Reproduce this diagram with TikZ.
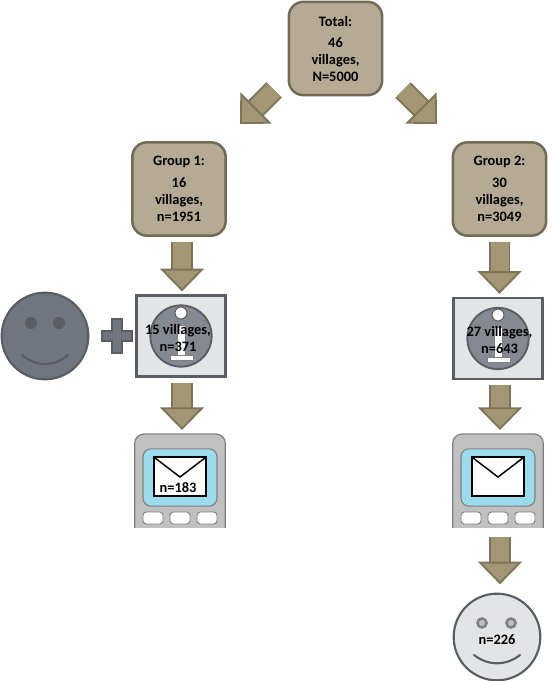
\documentclass[tikz,border=0pt]{standalone}
\usepackage{fontspec}
\setmainfont{Carlito}
\usepackage{xcolor}
\usetikzlibrary{arrows.meta}
\definecolor{boxfill}{RGB}{181,171,148}
\definecolor{boxedge}{RGB}{115,107,85}
\definecolor{arrowfill}{RGB}{163,150,116}
\definecolor{arrowedge}{RGB}{125,117,88}
\definecolor{slatefill}{RGB}{112,117,127}
\definecolor{slateedge}{RGB}{90,94,100}
\definecolor{palefill}{RGB}{227,228,230}
\definecolor{phonefill}{RGB}{192,192,192}
\definecolor{phoneedge}{RGB}{128,128,128}
\definecolor{screenfill}{RGB}{155,219,236}
\tikzset{
  every node/.style={inner sep=0pt,outer sep=0pt},
  lbl/.style={font=\fontsize{10.8}{12.75}\selectfont\bfseries,align=center,text=black},
  countbox/.style={lbl,rectangle,rounded corners=11pt,draw=boxedge,fill=boxfill,line width=1.9pt,
    minimum width=70pt,minimum height=70pt},
  blockarrow/.style={draw=arrowedge,line width=1.4pt,double=arrowfill,double distance=13.5pt,
    -{Triangle[length=17pt,width=33pt,fill=arrowfill,color=arrowedge,line width=1.4pt]}},
  infobox/.style={rectangle,draw=slateedge,fill=palefill,line width=1.9pt,minimum width=67pt,minimum height=61pt},
  infodisc/.style={circle,draw=slateedge,fill=slatefill!85!white,line width=1.4pt,minimum size=46pt},
  infodot/.style={circle,draw=slateedge,fill=white,line width=.8pt,minimum size=9pt},
  infoglyph/.style={fill=white,draw=phoneedge,line width=.5pt},
  facebig/.style={circle,draw=slateedge,line width=1.6pt,minimum size=65pt},
  phonebody/.style={rectangle,rounded corners=7pt,draw=phoneedge,fill=phonefill,line width=.9pt,minimum width=68pt,minimum height=90pt},
  phonescreen/.style={rectangle,rounded corners=6pt,draw=phoneedge,fill=screenfill,line width=.8pt,minimum width=55.5pt,minimum height=43pt},
  phonekey/.style={rectangle,rounded corners=2.5pt,draw=phoneedge,fill=white,line width=.7pt,minimum width=15pt,minimum height=9pt},
  envelope/.style={rectangle,draw=black,fill=white,line width=1.3pt,minimum width=39pt,minimum height=29pt},
}
\begin{document}
\begin{tikzpicture}[x=.75pt,y=-.75pt]
\useasboundingbox (0,0) rectangle (551,681);

% count boxes
\node[countbox] (total) at (335.5,48.5) {Total:\\[3pt]46\\villages,\\N=5000};
\node[countbox] (group1) at (179,189) {Group 1:\\[4pt]16\\villages,\\n=1951};
\node[countbox] (group2) at (499.5,189) {Group 2:\\[4pt]30\\villages,\\n=3049};

% info panels
\node[infobox] (info1) at (181,336) {};
\node[infodisc] (disc1) at (181,336) {};
\node[infodot] (dot1) at (181,313) {};
\path[infoglyph] (177,325) rectangle (185,355) (170,355) rectangle (193,360);
\node[lbl] (info1txt) at (178,338) {15 villages,\\n=371};

\node[infobox] (info2) at (498,338.5) {};
\node[infodisc] (disc2) at (498,338.5) {};
\node[infodot] (dot2) at (498,315) {};
\path[infoglyph] (494,327) rectangle (502,357) (487,357) rectangle (510,362);
\node[lbl] (info2txt) at (499.5,340) {27 villages,\\n=643};

% dark face and plus
\node[facebig,fill=slatefill] (face1) at (45,336) {};
\fill[slateedge] (31,323) circle (6) (59,323) circle (6);
\draw[slateedge,line width=1.6pt,line cap=round] (22,355) .. controls (36,367) and (54,367) .. (68,355);
\draw[slateedge,fill=slatefill,line width=1.4pt] (112,319) -- (122,319) -- (122,331) -- (132,331) -- (132,341) -- (122,341) -- (122,353) -- (112,353) -- (112,341) -- (102,341) -- (102,331) -- (112,331) -- cycle;

% phones, cut off at the bottom
\begin{scope}
\clip (130,430) rectangle (548,527);
\node[phonebody] (phone1) at (180,494) {};
\node[phonebody] (phone2) at (498,494) {};
\end{scope}
\node[phonescreen] (screen1) at (180,477.5) {};
\node[envelope] (env1) at (180,476.5) {};
\draw[black,line width=1.1pt] (env1.north west) -- (180,477) -- (env1.north east);
\node[lbl] (env1txt) at (178,488) {n=183};
\node[phonekey] (k1a) at (153,518) {};
\node[phonekey] (k1b) at (180,518) {};
\node[phonekey] (k1c) at (207,518) {};

\node[phonescreen] (screen2) at (498,477.5) {};
\node[envelope] (env2) at (498,476.5) {};
\draw[black,line width=1.1pt] (env2.north west) -- (498,477) -- (env2.north east);
\node[phonekey] (k2a) at (471,518) {};
\node[phonekey] (k2b) at (498,518) {};
\node[phonekey] (k2c) at (525,518) {};

% pale face
\node[facebig,fill=palefill] (face2) at (497,637) {};
\draw[phoneedge,fill=phonefill,line width=1.9pt] (482,623) circle (4.5) (511,623) circle (4.5);
\draw[slateedge,line width=1.6pt,line cap=round] (474,655) .. controls (488,666) and (506,666) .. (520,655);
\node[lbl] (face2txt) at (497,640) {n=226};

% arrows
\coordinate (tailL) at (274,90);
\coordinate (tipL) at (240,124);
\coordinate (tailR) at (403,90);
\coordinate (tipR) at (437,124);
\draw[blockarrow] (tailL) -- (tipL);
\draw[blockarrow] (tailR) -- (tipR);
\draw[blockarrow,shorten <=4.5pt,shorten >=3pt] (group1.south) ++(3,0) coordinate (a1) -- (a1 |- info1.north);
\draw[blockarrow,shorten <=4.5pt,shorten >=3pt] (info1.south) ++(1,0) coordinate (a2) -- (a2 |- phone1.north);
\draw[blockarrow,shorten <=4.5pt,shorten >=3pt] (group2.south) coordinate (a3) -- (a3 |- info2.north);
\draw[blockarrow,shorten <=4.5pt,shorten >=3pt] (info2.south) ++(2,0) coordinate (a4) -- (a4 |- phone2.north);
\coordinate (a5) at (500,537);
\draw[blockarrow,shorten >=7pt] (a5) -- (a5 |- face2.north);
\end{tikzpicture}
\end{document}
